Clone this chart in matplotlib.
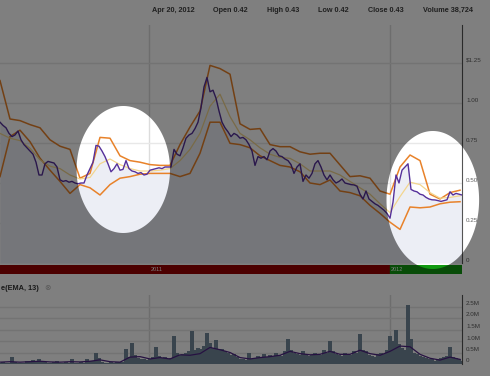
#Stock chart with Bollinger bands, volume and spotlight highlights

import numpy as np
import pandas as pd
import matplotlib
matplotlib.use('Agg')
import matplotlib.pyplot as plt
from matplotlib.path import Path
from matplotlib.patches import PathPatch
from matplotlib.transforms import IdentityTransform

plt.rcParams['font.family'] = ['Liberation Sans', 'DejaVu Sans']

START = '2010-05-19'
END = '2012-04-20'
BAND_END = '2012-04-17'

# closing price
price = [0.88, 0.86, 0.845, 0.81, 0.79, 0.80, 0.825, 0.77, 0.74, 0.72,
         0.70, 0.68, 0.63, 0.55, 0.55, 0.62, 0.635, 0.63, 0.625, 0.60,
         0.52, 0.51, 0.515, 0.505, 0.51, 0.50, 0.495, 0.50, 0.50, 0.55,
         0.59, 0.63, 0.735, 0.73, 0.70, 0.665, 0.62, 0.57, 0.59, 0.62,
         0.58, 0.585, 0.64, 0.59, 0.575, 0.57, 0.56, 0.565, 0.55, 0.555,
         0.58, 0.585, 0.59, 0.595, 0.59, 0.60, 0.60, 0.60, 0.71, 0.68,
         0.67, 0.72, 0.78, 0.80, 0.81, 0.84, 0.88, 0.97, 1.10, 1.16,
         1.07, 1.08, 1.03, 0.95, 0.88, 0.845, 0.82, 0.79, 0.81, 0.80,
         0.78, 0.785, 0.77, 0.74, 0.70, 0.61, 0.665, 0.655, 0.665, 0.645,
         0.70, 0.715, 0.70, 0.67, 0.665, 0.65, 0.64, 0.615, 0.56, 0.60,
         0.62, 0.51, 0.55, 0.53, 0.56, 0.62, 0.64, 0.60, 0.55, 0.52,
         0.55, 0.52, 0.50, 0.51, 0.525, 0.50, 0.495, 0.49, 0.488, 0.48,
         0.43, 0.40, 0.45, 0.40, 0.385, 0.37, 0.36, 0.345, 0.33, 0.31,
         0.28, 0.38, 0.55, 0.50, 0.58, 0.60, 0.62, 0.46, 0.45, 0.445,
         0.43, 0.425, 0.41, 0.40, 0.395, 0.394, 0.39, 0.385, 0.39, 0.395,
         0.445, 0.425, 0.435, 0.43, 0.425]

upper_band = [1.14, 0.90, 0.89, 0.865, 0.845, 0.77, 0.73, 0.71, 0.53, 0.56,
              0.785, 0.78, 0.67, 0.64, 0.63, 0.615, 0.61, 0.61, 0.74, 0.85,
              0.95, 1.235, 1.215, 1.18, 0.87, 0.835, 0.84, 0.74, 0.727, 0.727,
              0.695, 0.68, 0.686, 0.686, 0.613, 0.54, 0.545, 0.53, 0.45, 0.43,
              0.60, 0.675, 0.64, 0.43, 0.40, 0.44, 0.455]

middle_band = [0.81, 0.78, 0.765, 0.717, 0.645, 0.605, 0.59, 0.55, 0.525, 0.535,
               0.62, 0.65, 0.615, 0.59, 0.575, 0.575, 0.58, 0.59, 0.64, 0.71,
               0.81, 0.98, 1.055, 0.915, 0.81, 0.77, 0.72, 0.68, 0.66, 0.654,
               0.62, 0.575, 0.575, 0.575, 0.55, 0.51, 0.47, 0.43, 0.37, 0.315,
               0.415, 0.505, 0.49, 0.44, 0.405, 0.41, 0.42]

lower_band = [0.54, 0.79, 0.83, 0.758, 0.655, 0.58, 0.51, 0.435, 0.49, 0.47,
              0.425, 0.49, 0.53, 0.54, 0.555, 0.56, 0.56, 0.56, 0.54, 0.56,
              0.686, 0.88, 0.88, 0.748, 0.74, 0.72, 0.67, 0.64, 0.61, 0.60,
              0.57, 0.50, 0.49, 0.519, 0.45, 0.44, 0.42, 0.36, 0.31, 0.255,
              0.21, 0.35, 0.345, 0.35, 0.37, 0.38, 0.383]

# volume in millions
volume = [0.05, 0.10, 0.05, 0.06, 0.32, 0.08, 0.05, 0.04, 0.05, 0.15,
          0.12, 0.18, 0.10, 0.20, 0.12, 0.08, 0.06, 0.05, 0.07, 0.15,
          0.06, 0.05, 0.08, 0.06, 0.20, 0.06, 0.05, 0.08, 0.06, 0.20,
          0.12, 0.15, 0.49, 0.25, 0.10, 0.06, 0.05, 0.08, 0.06, 0.07,
          0.10, 0.08, 0.64, 0.30, 0.93, 0.40, 0.25, 0.20, 0.22, 0.18,
          0.20, 0.30, 0.74, 0.35, 0.25, 0.30, 0.22, 0.28, 1.20, 0.50,
          0.40, 0.45, 0.50, 0.55, 1.45, 0.60, 0.70, 0.65, 0.80, 1.33,
          0.90, 0.70, 1.04, 0.60, 0.65, 0.55, 0.50, 0.40, 0.45, 0.30,
          0.22, 0.20, 0.18, 0.46, 0.20, 0.25, 0.35, 0.30, 0.45, 0.30,
          0.40, 0.35, 0.50, 0.40, 0.35, 0.55, 1.10, 0.60, 0.50, 0.45,
          0.40, 0.55, 0.45, 0.35, 0.40, 0.50, 0.45, 0.40, 0.60, 0.50,
          1.00, 0.55, 0.45, 0.40, 0.35, 0.50, 0.45, 0.40, 0.55, 0.50,
          1.30, 0.60, 0.55, 0.40, 0.35, 0.30, 0.45, 0.50, 0.45, 0.60,
          1.20, 1.00, 1.48, 0.85, 0.70, 0.60, 2.56, 1.10, 0.50, 0.45,
          0.35, 0.30, 0.25, 0.20, 0.22, 0.15, 0.20, 0.25, 0.30, 0.35,
          0.75, 0.30, 0.25, 0.20, 0.15]

volume_ema = [0.08, 0.10, 0.08, 0.10, 0.12, 0.09, 0.08, 0.10, 0.09, 0.12,
              0.18, 0.10, 0.08, 0.30, 0.32, 0.22, 0.28, 0.22, 0.40, 0.38,
              0.45, 0.72, 0.62, 0.50, 0.28, 0.22, 0.28, 0.32, 0.38, 0.55,
              0.45, 0.40, 0.42, 0.55, 0.42, 0.42, 0.60, 0.45, 0.38, 0.55,
              0.78, 0.75, 0.42, 0.25, 0.17, 0.30, 0.20]

year_starts = ['2011-01-01', '2012-01-01']
year_labels = ['2011', '2012']
price_ticks = [1.25, 1.0, 0.75, 0.5, 0.25, 0]
price_tick_labels = ['$1.25', '1.00', '0.75', '0.50', '0.25', '0']
vol_ticks = [2.5, 2.0, 1.5, 1.0, 0.5, 0]
vol_tick_labels = ['2.5M', '2.0M', '1.5M', '1.0M', '0.5M', '0']
header_items = ['Apr 20, 2012', 'Open 0.42', 'High 0.43', 'Low 0.42', 'Close 0.43', 'Volume 38,724']

price_dates = pd.date_range(START, END, periods=len(price))
band_dates = pd.date_range(START, BAND_END, periods=len(upper_band))
vol_dates = pd.date_range(START, END, periods=len(volume))
ema_dates = pd.date_range(START, BAND_END, periods=len(volume_ema))
years = pd.to_datetime(year_starts)
t0, t1 = pd.Timestamp(START), pd.Timestamp(END)

W, H = 490, 376
fig = plt.figure(figsize=(W / 100, H / 100), dpi=100, facecolor='white')


def px_box(left, top, right, bottom):
    return [left / W, 1 - bottom / H, (right - left) / W, (bottom - top) / H]


def style_axes(a):
    for s in ['left', 'top', 'bottom']:
        a.spines[s].set_visible(False)
    a.spines['right'].set_color('#555555')
    a.tick_params(length=0, labelleft=False, labelbottom=False, labelright=False)
    a.set_xticks([])
    a.set_xlim(t0, t1)
    for y in years:
        a.axvline(y, color='#dcdcdc', lw=1, zorder=0)


# price panel
ax = fig.add_axes(px_box(0, 25, 462, 263))
style_axes(ax)
ax.set_ylim(0, 238 / 160)
ax.set_yticks(price_ticks)
ax.grid(axis='y', color='#e8e8e8', lw=1)
ax.set_axisbelow(True)
ax.fill_between(price_dates, price, 0, color='#eceef5', lw=0, zorder=1)
ax.plot(band_dates, upper_band, color='#e8822a', lw=1.1, zorder=2)
ax.plot(band_dates, lower_band, color='#e8822a', lw=1.1, zorder=2)
ax.plot(band_dates, middle_band, color='#f3d68e', lw=0.9, zorder=2)
ax.plot(price_dates, price, color='#55309a', lw=1.0, zorder=3)
for v, t in zip(price_ticks, price_tick_labels):
    ax.annotate(t, xy=(1, v), xycoords=('axes fraction', 'data'), xytext=(4, 3),
                textcoords='offset pixels', fontsize=4.5, color='#606060',
                ha='left', va='center', annotation_clip=False)

# year strip
ax_y = fig.add_axes(px_box(0, 265, 462, 274))
ax_y.set_xlim(t0, t1)
ax_y.set_ylim(0, 1)
ax_y.axis('off')
ax_y.axvspan(t0, years[1], color='#990000')
ax_y.axvspan(years[1], t1, color='#119a11')
for y, lab in zip(years, year_labels):
    ax_y.text(y + pd.Timedelta(days=2), 0.5, lab, fontsize=4, color='white', va='center', ha='left')

# volume panel
ax_v = fig.add_axes(px_box(0, 295, 462, 364))
style_axes(ax_v)
ax_v.set_ylim(0, 3.0)
ax_v.set_yticks(vol_ticks)
ax_v.grid(axis='y', color='#e8e8e8', lw=1)
ax_v.set_axisbelow(True)
ax_v.bar(vol_dates, volume, width=4.6, color='#74899c', lw=0, zorder=2)
ax_v.plot(ema_dates, volume_ema, color='#4e2484', lw=0.9, zorder=3)
for v, t in zip(vol_ticks, vol_tick_labels):
    ax_v.annotate(t, xy=(1, v), xycoords=('axes fraction', 'data'), xytext=(4, 3),
                  textcoords='offset pixels', fontsize=4.5, color='#606060',
                  ha='left', va='center', annotation_clip=False)

fig.text(1 / W, 1 - 288 / H, 'e(EMA, 13)', ha='left', va='center',
         fontsize=5.3, fontweight='bold', color='#333333', zorder=5)
fig.text(47 / W, 1 - 288 / H, '\u2297', family='DejaVu Sans', ha='center', va='center',
         fontsize=5.5, color='#b0b0b0', zorder=5)

# header
header_x = [152, 213, 267, 318, 368, 423]
for hx, item in zip(header_x, header_items):
    fig.text(hx / W, 1 - 10 / H, item, ha='left', va='center', fontsize=5.2,
             fontweight='bold', color='#404040', zorder=5)

# dark overlay with two elliptical holes (spotlights)
spots = [(123.3, 169.5, 46.7, 63.5), (432.8, 200.0, 46.3, 69.0)]
verts = [(0, 0), (W, 0), (W, H), (0, H), (0, 0)]
codes = [Path.MOVETO, Path.LINETO, Path.LINETO, Path.LINETO, Path.CLOSEPOLY]
theta = np.linspace(0, 2 * np.pi, 241)
for cx, cy, rx, ry in spots:
    ex = cx + rx * np.cos(theta)
    ey = (H - cy) - ry * np.sin(theta)
    pts = list(zip(ex, ey))
    verts += pts
    codes += [Path.MOVETO] + [Path.LINETO] * (len(pts) - 2) + [Path.CLOSEPOLY]
overlay = PathPatch(Path(verts, codes), transform=IdentityTransform(),
                    facecolor='black', edgecolor='none', alpha=0.5, zorder=10)
fig.add_artist(overlay)

fig.savefig('out.png', dpi=100, facecolor='white')
